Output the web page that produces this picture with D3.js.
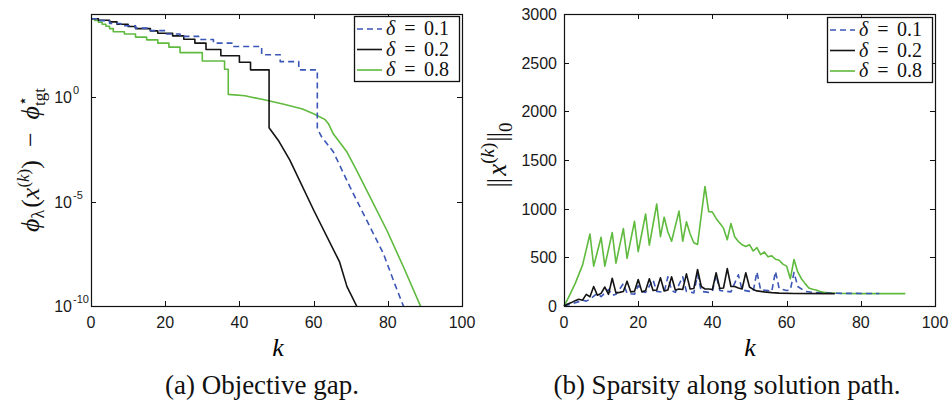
<!DOCTYPE html>
<html>
<head>
<meta charset="utf-8">
<script src="https://cdn.jsdelivr.net/npm/d3@7"></script>
<style>
  body { margin: 0; background: #fff; }
  svg { display: block; }
</style>
</head>
<body>
<svg id="fig" width="950" height="400"></svg>
<script>
// ---------------- data ----------------
const deltaLabels = ["0.1", "0.2", "0.8"];
const seriesColors = ["#3b56b6", "#141414", "#5fba3e"];
const seriesDash = ["6,4", null, null];

const kTicks = [0, 20, 40, 60, 80, 100];
const gapTicks = [1e-10, 1e-5, 1e0];
const gapTickExponents = ["-10", "-5", "0"];
const nnzTicks = [0, 500, 1000, 1500, 2000, 2500, 3000];

// Objective gap: staircase levels [k, value], followed by the smooth tail [k, value]
const gapStairs01 = [[0,5.9e3],[2,4.8e3],[5,3.5e3],[8,2.75e3],[12,2.1e3],[16,1.6e3],[20,1.1e3],
                     [24,850],[29,600],[33,400],[38,275],[46,112],[51,52],[56,21]];
const gapTail01   = [[61,3.2e-2],[62.2,1.26e-2],[65.3,2.5e-3],[69.8,5.1e-5],[74.3,1.3e-6],
                     [78.8,3.3e-8],[82,1e-9],[84.2,1e-10],[85,4e-11]];

const gapStairs02 = [[0,5.9e3],[2,5.0e3],[5,4.2e3],[7,3.2e3],[10,2.5e3],[12,2.0e3],[16,1.55e3],
                     [18,1.2e3],[22,890],[25,620],[28,400],[31,200],[35,100],[40,49],[43,21]];
const gapTail02   = [[48,3.5e-2],[50.5,8.7e-3],[53.6,9.8e-4],[60,4e-6],[67,1.3e-8],
                     [69,8.5e-10],[71.6,1e-10],[72.5,4e-11]];

const gapStairs08 = [[0,5.9e3],[1,4.9e3],[2,4.0e3],[3,3.2e3],[4,2.6e3],[5,2.0e3],[6,1.4e3],
                     [9,1.1e3],[12,780],[15,575],[18,400],[21,257],[24,141],[30,56],[36,22.4]];
const gapTail08   = [[37,1.4],[41.5,1.2],[43,1.05],[47,0.76],[52,0.47],[57,0.28],[60,0.166],
                     [63,0.089],[64,0.055],[65.3,0.018],[69,2.4e-3],[71.6,3.2e-4],[75.2,1.7e-5],
                     [79.7,4.4e-7],[84.2,7.6e-9],[88.7,1.1e-10],[89.5,5e-11]];

// Number of nonzeros along the path [k, ||x||_0]
const nnz01 = [[0,0],[2,20],[4,45],[5,60],[6,50],[7,70],[9,130],[10,95],[12,170],[13,110],[14,120],
               [16,230],[17,130],[19,120],[20,210],[21,150],[22,140],[24,270],[25,150],[27,140],
               [28,300],[29,160],[30,140],[32,300],[33,150],[35,135],[36,320],[37,150],[39,140],
               [40,150],[41,320],[42,160],[44,150],[45,145],[47,320],[48,165],[50,150],[51,150],
               [52,350],[53,165],[55,160],[56,150],[57,355],[58,180],[60,160],[61,165],[62,345],
               [63,200],[65,150],[67,140],[70,133],[75,130],[85,128]];
const nnz02 = [[0,0],[1,20],[2,35],[3,55],[4,70],[5,60],[6,120],[7,95],[8,200],[9,110],[10,130],
               [11,195],[12,120],[13,285],[14,135],[15,140],[16,150],[17,255],[18,145],[19,150],
               [20,272],[21,145],[22,160],[23,280],[24,160],[25,165],[26,290],[27,155],[28,165],
               [29,300],[30,165],[31,175],[32,170],[33,330],[34,175],[35,180],[36,375],[37,200],
               [38,175],[39,175],[40,170],[41,342],[42,180],[43,185],[44,385],[45,200],[46,200],
               [47,185],[48,175],[49,342],[50,195],[51,170],[52,155],[54,145],[56,137],[58,132],
               [62,128],[73,127]];
const nnz08 = [[0,0],[1,70],[3,230],[5,420],[7,740],[8,410],[10,706],[11,410],[13,755],[14,440],
               [16,795],[17,490],[19,870],[20,558],[22,945],[23,625],[25,1048],[26,712],[27,912],
               [28,760],[29,665],[31,975],[32,665],[33,865],[34,740],[35,650],[36,632],[38,1228],
               [39,970],[40,965],[41,900],[42,850],[43,800],[44,680],[45,848],[46,712],[47,662],
               [48,630],[49,612],[50,630],[51,565],[52,600],[53,528],[54,555],[55,505],[56,515],
               [57,480],[58,470],[59,430],[60,410],[61,280],[62,478],[63,350],[64,280],[65,230],
               [66,185],[67,172],[68,165],[69,150],[70,140],[72,133],[75,128],[80,127],[92,127]];

// ---------------- drawing ----------------
const svg = d3.select("#fig");
svg.append("rect").attr("width", 950).attr("height", 400).attr("fill", "#fff");

const tickFont = "'Liberation Sans', Arial, sans-serif";
const serif = "'Liberation Serif', 'DejaVu Serif', serif";

// staircase -> polyline vertices with vertical drops, then the tail
function stairVertices(stairs, tail) {
  const pts = [];
  stairs.forEach((s, i) => {
    const next = i + 1 < stairs.length ? stairs[i + 1][0] : tail[0][0];
    pts.push(s, [next, s[1]]);
  });
  return pts.concat(tail);
}

function frame(g, x, y, yTickVals) {
  const [x0, x1] = x.range();
  const [y1, y0] = y.range();
  const tl = 5;
  const t = g.append("g").attr("stroke", "#111").attr("stroke-width", 1);
  kTicks.forEach(v => {
    const px = Math.round(x(v)) + 0.5;
    t.append("line").attr("x1", px).attr("x2", px).attr("y1", y1).attr("y2", y1 - tl);
    t.append("line").attr("x1", px).attr("x2", px).attr("y1", y0).attr("y2", y0 + tl);
  });
  yTickVals.forEach(v => {
    const py = Math.round(y(v)) + 0.5;
    t.append("line").attr("x1", x0).attr("x2", x0 + tl).attr("y1", py).attr("y2", py);
    t.append("line").attr("x1", x1).attr("x2", x1 - tl).attr("y1", py).attr("y2", py);
  });
  g.append("rect")
    .attr("x", x0 + 0.5).attr("y", y0 + 0.5)
    .attr("width", x1 - x0).attr("height", y1 - y0)
    .attr("fill", "none").attr("stroke", "#111").attr("stroke-width", 1.2);
  g.append("g").selectAll("text").data(kTicks).join("text")
    .attr("x", d => x(d)).attr("y", y1 + 22)
    .attr("text-anchor", "middle")
    .attr("font-family", tickFont).attr("font-size", 16).attr("fill", "#1a1a1a")
    .text(d => d);
}

function legend(g, left, top) {
  const w = 105, h = 65;
  g.append("rect").attr("x", left + 0.5).attr("y", top + 0.5).attr("width", w).attr("height", h)
    .attr("fill", "#fff").attr("stroke", "#111").attr("stroke-width", 1.3);
  deltaLabels.forEach((lab, i) => {
    const cy = top + 13 + i * 20.5;
    g.append("line").attr("x1", left + 3).attr("x2", left + 28).attr("y1", cy).attr("y2", cy)
      .attr("stroke", seriesColors[i]).attr("stroke-width", 1.6)
      .attr("stroke-dasharray", seriesDash[i]);
    const txt = (x, anchor, s, italic) => g.append("text")
      .attr("x", x).attr("y", cy + 6).attr("text-anchor", anchor)
      .attr("font-family", serif).attr("font-size", 20).attr("fill", "#111")
      .attr("font-style", italic ? "italic" : null).text(s);
    txt(left + 32, "start", "δ", true);
    txt(left + 56, "middle", "=", false);
    txt(left + 70, "start", lab, false);
  });
}

// ---- (a) objective gap ----
const gA = svg.append("g");
const xA = d3.scaleLinear().domain([0, 100]).range([91, 462]);
const yA = d3.scaleLog().domain([1e-10, 1e4]).range([306, 14]);

svg.append("clipPath").attr("id", "clipA").append("rect")
  .attr("x", 91).attr("y", 14).attr("width", 371).attr("height", 292);

const lineA = d3.line().x(d => xA(d[0])).y(d => yA(d[1]));
const gapSeries = [
  stairVertices(gapStairs01, gapTail01),
  stairVertices(gapStairs02, gapTail02),
  stairVertices(gapStairs08, gapTail08)
];
const linesA = gA.append("g").attr("clip-path", "url(#clipA)");
[2, 1, 0].forEach(i => {
  linesA.append("path").attr("d", lineA(gapSeries[i]))
    .attr("fill", "none").attr("stroke", seriesColors[i]).attr("stroke-width", 1.6)
    .attr("stroke-dasharray", seriesDash[i]).attr("stroke-linejoin", "round");
});
frame(gA, xA, yA, gapTicks);

// log tick labels 10^e
gapTicks.forEach((v, i) => {
  const py = yA(v);
  gA.append("text").attr("x", 72).attr("y", py + 6).attr("text-anchor", "end")
    .attr("font-family", tickFont).attr("font-size", 16).attr("fill", "#1a1a1a").text("10");
  gA.append("text").attr("x", 73).attr("y", py - 3).attr("font-family", tickFont)
    .attr("font-size", 11).attr("fill", "#1a1a1a").text(gapTickExponents[i]);
});

legend(gA, 354, 16);

// axis labels
gA.append("text").attr("x", 278).attr("y", 356).attr("text-anchor", "middle")
  .attr("font-family", serif).attr("font-style", "italic").attr("font-size", 26).text("k");

const yLabA = gA.append("text").attr("transform", "translate(39,160) rotate(-90)")
  .attr("text-anchor", "middle").attr("font-family", serif).attr("font-size", 26).attr("fill", "#111");
yLabA.append("tspan").attr("font-style", "italic").text("ϕ");
yLabA.append("tspan").attr("font-size", 18).attr("dy", 5).text("λ");
yLabA.append("tspan").attr("dy", -5).attr("dx", 2).text("(");
yLabA.append("tspan").attr("font-style", "italic").text("x");
yLabA.append("tspan").attr("font-size", 17).attr("dy", -10).text("(");
yLabA.append("tspan").attr("font-size", 17).attr("font-style", "italic").text("k");
yLabA.append("tspan").attr("font-size", 17).text(")");
yLabA.append("tspan").attr("dy", 10).text(")\u2002−\u2002");
yLabA.append("tspan").attr("font-style", "italic").text("ϕ");
yLabA.append("tspan").attr("font-size", 16).attr("dy", -11).text("⋆");
yLabA.append("tspan").attr("font-size", 17).attr("dx", -10).attr("dy", 17).text("tgt");

gA.append("text").attr("x", 262).attr("y", 394).attr("text-anchor", "middle")
  .attr("font-family", serif).attr("font-size", 27).attr("fill", "#111").text("(a) Objective gap.");

// ---- (b) sparsity ----
const gB = svg.append("g");
const xB = d3.scaleLinear().domain([0, 100]).range([564, 935]);
const yB = d3.scaleLinear().domain([0, 3000]).range([306, 14]);
const lineB = d3.line().x(d => xB(d[0])).y(d => yB(d[1]));
const nnzSeries = [nnz01, nnz02, nnz08];
[2, 0, 1].forEach(i => {
  gB.append("path").attr("d", lineB(nnzSeries[i]))
    .attr("fill", "none").attr("stroke", seriesColors[i]).attr("stroke-width", 1.6)
    .attr("stroke-dasharray", seriesDash[i]).attr("stroke-linejoin", "round");
});
frame(gB, xB, yB, nnzTicks);
gB.append("g").selectAll("text").data(nnzTicks).join("text")
  .attr("x", 557).attr("y", d => yB(d) + 6).attr("text-anchor", "end")
  .attr("font-family", tickFont).attr("font-size", 16).attr("fill", "#1a1a1a").text(d => d);

legend(gB, 827, 17);

gB.append("text").attr("x", 750).attr("y", 356).attr("text-anchor", "middle")
  .attr("font-family", serif).attr("font-style", "italic").attr("font-size", 26).text("k");

// ||x^(k)||_0, norm bars drawn as two vertical bars
const yLabB = gB.append("text").attr("transform", "translate(506,155) rotate(-90)")
  .attr("text-anchor", "middle").attr("font-family", serif).attr("font-size", 27).attr("fill", "#111");
yLabB.append("tspan").text("|");
yLabB.append("tspan").attr("dx", -1).text("|");
yLabB.append("tspan").attr("dx", 2).attr("font-style", "italic").text("x");
yLabB.append("tspan").attr("font-size", 19).attr("dy", -12).text("(");
yLabB.append("tspan").attr("font-size", 19).attr("font-style", "italic").text("k");
yLabB.append("tspan").attr("font-size", 19).text(")");
yLabB.append("tspan").attr("dy", 12).attr("dx", 1).text("|");
yLabB.append("tspan").attr("dx", -1).text("|");
yLabB.append("tspan").attr("font-size", 19).attr("dy", 6).text("0");

gB.append("text").attr("x", 727).attr("y", 394).attr("text-anchor", "middle")
  .attr("font-family", serif).attr("font-size", 27).attr("fill", "#111").text("(b) Sparsity along solution path.");
</script>
</body>
</html>
